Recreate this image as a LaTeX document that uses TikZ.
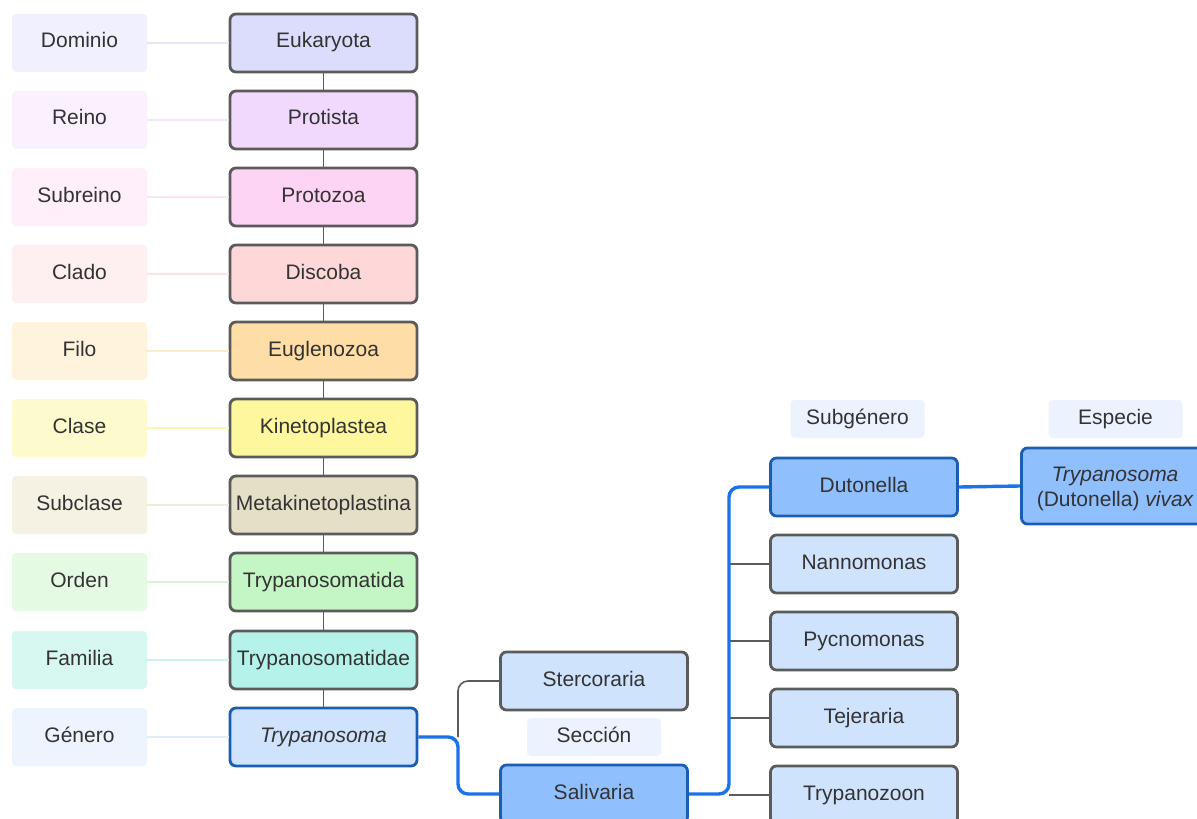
\documentclass[tikz,border=0pt]{standalone}
\usepackage{fontspec}
\setmainfont{Liberation Sans}
\definecolor{txt}{HTML}{333333}
\definecolor{gbord}{HTML}{5B5B5B}
\definecolor{bbord}{HTML}{1A5DB5}
\definecolor{bline}{HTML}{1A73E8}
\definecolor{dblue}{HTML}{90BFFD}
\definecolor{lblue}{HTML}{CFE3FD}
\definecolor{hdr}{HTML}{ECF3FE}
\definecolor{lA}{HTML}{F0F0FE}\definecolor{cA}{HTML}{E6E6FB}\definecolor{bA}{HTML}{DCDCFD}
\definecolor{lB}{HTML}{FBF0FE}\definecolor{cB}{HTML}{F3E4FC}\definecolor{bB}{HTML}{F0D9FD}
\definecolor{lC}{HTML}{FEEFFB}\definecolor{cC}{HTML}{FCE3F6}\definecolor{bC}{HTML}{FED4F5}
\definecolor{lD}{HTML}{FEF0F0}\definecolor{cD}{HTML}{FCE4E4}\definecolor{bD}{HTML}{FED8D8}
\definecolor{lE}{HTML}{FFF3DE}\definecolor{cE}{HTML}{FDEBC9}\definecolor{bE}{HTML}{FEDDA6}
\definecolor{lF}{HTML}{FDFBCD}\definecolor{cF}{HTML}{FBF6B3}\definecolor{bF}{HTML}{FEF79D}
\definecolor{lG}{HTML}{F5F2E4}\definecolor{cG}{HTML}{F1ECD9}\definecolor{bG}{HTML}{E6DFC7}
\definecolor{lH}{HTML}{E4FAE3}\definecolor{cH}{HTML}{D6F5D6}\definecolor{bH}{HTML}{C4F5C4}
\definecolor{lI}{HTML}{D6F8F1}\definecolor{cI}{HTML}{C9F4EE}\definecolor{bI}{HTML}{B5F3EA}
\definecolor{lJ}{HTML}{EDF4FE}\definecolor{cJ}{HTML}{E1EDFD}\definecolor{bJ}{HTML}{CFE3FD}
\tikzset{
  every node/.style={font=\fontsize{10.5}{12.6}\selectfont, text=txt, inner sep=0pt,
    text height=7.6pt, text depth=2.6pt},
  rankbox/.style={rounded corners=2pt, minimum width=67.5pt, minimum height=29pt},
  taxbox/.style={draw=gbord, line width=1.4pt, rounded corners=3pt, minimum width=93.5pt, minimum height=29pt},
  bluebox/.style={draw=bbord, line width=1.4pt, rounded corners=3pt, minimum width=93.5pt, minimum height=29pt},
  hdrbox/.style={fill=hdr, rounded corners=2pt, minimum width=67pt, minimum height=19pt},
  gline/.style={draw=gbord, line width=0.8pt},
  blueline/.style={draw=bline, line width=1.7pt},
}
\begin{document}
\begin{tikzpicture}[x=0.5pt,y=-0.5pt]
\useasboundingbox (0,0) rectangle (1197,818);
\clip (0,0) rectangle (1197,818);
\fill[white] (0,0) rectangle (1197,818);
% ranks (left column)
\node[rankbox, fill=lA] (rA) at (79.5,43) {Dominio};
\node[rankbox, fill=lB] (rB) at (79.5,120) {Reino};
\node[rankbox, fill=lC] (rC) at (79.5,197) {Subreino};
\node[rankbox, fill=lD] (rD) at (79.5,274) {Clado};
\node[rankbox, fill=lE] (rE) at (79.5,351) {Filo};
\node[rankbox, fill=lF] (rF) at (79.5,428) {Clase};
\node[rankbox, fill=lG] (rG) at (79.5,505) {Subclase};
\node[rankbox, fill=lH] (rH) at (79.5,582) {Orden};
\node[rankbox, fill=lI] (rI) at (79.5,660) {Familia};
\node[rankbox, fill=lJ] (rJ) at (79.5,737) {Género};
% taxa (main column)
\node[taxbox, fill=bA] (tA) at (323.5,43) {Eukaryota};
\node[taxbox, fill=bB] (tB) at (323.5,120) {Protista};
\node[taxbox, fill=bC] (tC) at (323.5,197) {Protozoa};
\node[taxbox, fill=bD] (tD) at (323.5,274) {Discoba};
\node[taxbox, fill=bE] (tE) at (323.5,351) {Euglenozoa};
\node[taxbox, fill=bF] (tF) at (323.5,428) {Kinetoplastea};
\node[taxbox, fill=bG] (tG) at (323.5,505) {Metakinetoplastina};
\node[taxbox, fill=bH] (tH) at (323.5,582) {Trypanosomatida};
\node[taxbox, fill=bI] (tI) at (323.5,660) {Trypanosomatidae};
\node[bluebox, fill=bJ] (tJ) at (323.5,737) {\itshape Trypanosoma};
% rank-to-taxon connectors
\foreach \k in {A,B,C,D,E,F,G,H,I,J}{
  \draw[draw=c\k, line width=1pt] (r\k.east) -- (t\k.west);
}
% vertical chain
\draw[gline] (tA.south) -- (tB.north);
\draw[gline] (tB.south) -- (tC.north);
\draw[gline] (tC.south) -- (tD.north);
\draw[gline] (tD.south) -- (tE.north);
\draw[gline] (tE.south) -- (tF.north);
\draw[gline] (tF.south) -- (tG.north);
\draw[gline] (tG.south) -- (tH.north);
\draw[gline] (tH.south) -- (tI.north);
\draw[gline] (tI.south) -- (tJ.north);
% sections
\node[taxbox, fill=lblue] (ster) at (594,681) {Stercoraria};
\node[hdrbox] (hsec) at (594,737) {Sección};
\node[bluebox, fill=dblue] (sali) at (594,794) {Salivaria};
\coordinate (j1) at (458,737);
\draw[gline, rounded corners=5pt] (j1) |- (ster.west);
\draw[blueline, rounded corners=5pt] (tJ.east) -- (j1) |- (sali.west);
% subgenera
\node[hdrbox] (hsub) at (857.5,419) {Subgénero};
\node[bluebox, fill=dblue] (dut) at (864,487) {Dutonella};
\node[taxbox, fill=lblue] (nan) at (864,564) {Nannomonas};
\node[taxbox, fill=lblue] (pyc) at (864,641) {Pycnomonas};
\node[taxbox, fill=lblue] (tej) at (864,718) {Tejeraria};
\node[taxbox, fill=lblue] (tpz) at (864,795) {Trypanozoon};
\coordinate (j2) at (729,794);
\draw[gline] (nan.west -| j2) -- (nan.west);
\draw[gline] (pyc.west -| j2) -- (pyc.west);
\draw[gline] (tej.west -| j2) -- (tej.west);
\draw[gline] (tpz.west -| j2) -- (tpz.west);
\draw[blueline, rounded corners=5pt] (sali.east) -- (j2) |- (dut.west);
% species
\node[hdrbox] (hesp) at (1115.5,419) {Especie};
\node[bluebox, fill=dblue, minimum height=38pt, align=center, text height=23pt, text depth=] (sp) at (1115,486)
  {\itshape Trypanosoma\\(Dutonella) \itshape vivax};
\draw[blueline] (dut.east) -- (sp.west);
\end{tikzpicture}
\end{document}
